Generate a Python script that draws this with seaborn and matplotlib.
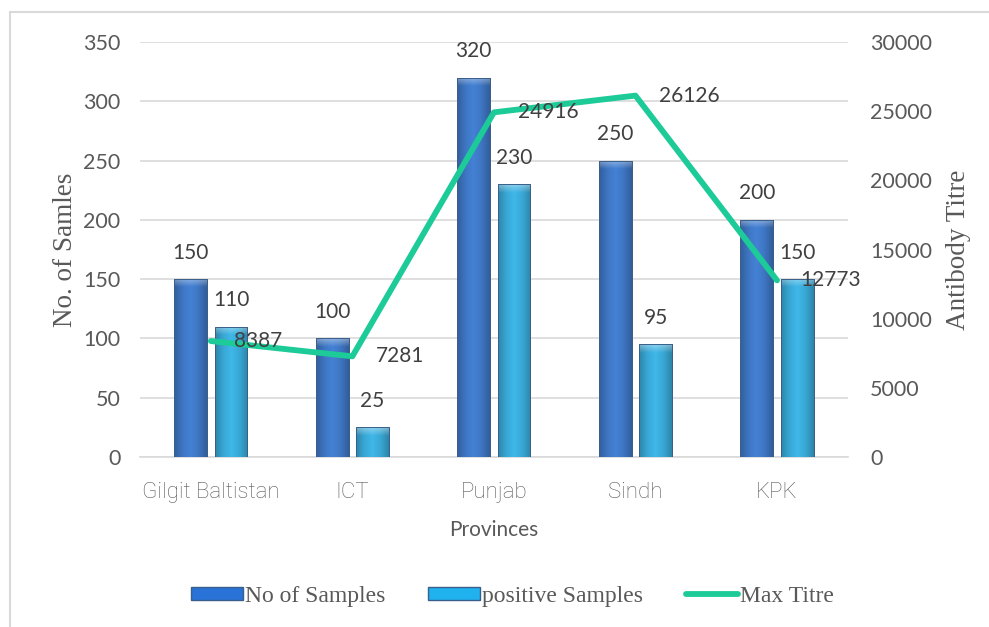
import numpy as np
import pandas as pd
import matplotlib
matplotlib.use("Agg")
import matplotlib.pyplot as plt
from matplotlib.patches import Patch
from matplotlib.lines import Line2D
from matplotlib.colors import LinearSegmentedColormap
import seaborn as sns

# --- data -------------------------------------------------------------
provinces = ["Gilgit Baltistan", "ICT", "Punjab", "Sindh", "KPK"]
no_of_samples = [150, 100, 320, 250, 200]
positive_samples = [110, 25, 230, 95, 150]
max_titre = [8387, 7281, 24916, 26126, 12773]
series_names = ["No of Samples", "positive Samples", "Max Titre"]

left_ticks = [0, 50, 100, 150, 200, 250, 300, 350]
right_ticks = [0, 5000, 10000, 15000, 20000, 25000, 30000]

# --- style ------------------------------------------------------------
sns.set_theme(style="white")
plt.rcParams["font.family"] = ["Lato", "DejaVu Sans"]

C_TOTAL = "#2872d8"
C_POS = "#1fb2ee"
C_LINE = "#1dcb98"
C_TEXT = "#595959"
C_GRID = "#d9d9d9"
C_EDGE = "#3a5f8a"

df = pd.DataFrame({
    "Province": provinces * 2,
    "Count": no_of_samples + positive_samples,
    "Series": [series_names[0]] * len(provinces) + [series_names[1]] * len(provinces),
})

fig = plt.figure(figsize=(9.89, 6.27), dpi=100)
ax = fig.add_axes([0.1416, 0.271, 0.7156, 0.662])

sns.barplot(data=df, x="Province", y="Count", hue="Series", order=provinces,
            hue_order=series_names[:2], palette=[C_TOTAL, C_POS],
            width=0.57, gap=0.19, ax=ax, legend=False, zorder=3,
            edgecolor=C_EDGE, linewidth=0.6)

# glossy shading inside each bar
def shade(base, dark=0.8, light=1.1):
    rgb = np.array(matplotlib.colors.to_rgb(base))
    d = np.clip(rgb * dark, 0, 1)
    l = np.clip(rgb * light, 0, 1)
    return LinearSegmentedColormap.from_list("g", [d, rgb, l, rgb, d])

grad = np.linspace(0, 1, 64).reshape(1, -1)
for patch in list(ax.patches):
    x0, y0 = patch.get_x(), patch.get_y()
    w, h = patch.get_width(), patch.get_height()
    if h <= 0:
        continue
    base = patch.get_facecolor()
    im = ax.imshow(grad, extent=[x0, x0 + w, y0, y0 + h], aspect="auto",
                   cmap=shade(base), zorder=3.5, interpolation="bicubic")
    im.set_clip_path(patch)
    # lighter cap at the top of the bar
    cap_h = min(h, 7)
    top = ax.imshow(np.linspace(0, 1, 32).reshape(-1, 1),
                    extent=[x0, x0 + w, y0 + h - cap_h, y0 + h], aspect="auto",
                    cmap=LinearSegmentedColormap.from_list(
                        "c", [(1, 1, 1, 0.0), (1, 1, 1, 0.4)]),
                    zorder=3.6, origin="lower")
    top.set_clip_path(patch)
    edge = plt.Rectangle((x0, y0), w, h, fill=False, edgecolor=C_EDGE,
                         linewidth=0.7, zorder=3.7)
    ax.add_patch(edge)

ax.set_xlim(-0.5, len(provinces) - 0.5)
ax.set_ylim(0, 350)
ax.set_yticks(left_ticks)
ax.yaxis.grid(True, color=C_GRID, linewidth=1.2, zorder=0)
ax.set_axisbelow(True)
for s in ["left", "right", "top"]:
    ax.spines[s].set_visible(False)
ax.spines["bottom"].set_color(C_GRID)
ax.spines["bottom"].set_linewidth(1.2)
ax.tick_params(axis="y", length=0, pad=14, labelsize=15.5, labelcolor=C_TEXT)
ax.tick_params(axis="x", length=0, pad=18, labelcolor=C_TEXT)
for lbl in ax.get_xticklabels():
    lbl.set_fontfamily(["Roboto", "DejaVu Sans"])
    lbl.set_fontweight("light")
    lbl.set_fontsize(16)
ax.set_xlabel("Provinces", fontsize=15, color=C_TEXT, labelpad=12)
ax.set_ylabel("No. of Samles", fontsize=19.5, color=C_TEXT,
              family=["Liberation Serif", "DejaVu Serif"], labelpad=4)

# value labels above the bars
for container in ax.containers:
    ax.bar_label(container, padding=12, fontsize=15, color="#404040")

# secondary axis with the titre line
ax2 = ax.twinx()
sns.lineplot(x=np.arange(len(provinces)), y=max_titre, ax=ax2, color=C_LINE,
             linewidth=4.2, zorder=5, legend=False)
ax2.set_ylim(0, 30000)
ax2.set_yticks(right_ticks)
for s in ["left", "right", "top", "bottom"]:
    ax2.spines[s].set_visible(False)
ax2.tick_params(axis="y", length=0, pad=16, labelsize=15.5, labelcolor=C_TEXT)
ax2.set_ylabel("Antibody Titre", fontsize=19.5, color=C_TEXT,
               family=["Liberation Serif", "DejaVu Serif"], labelpad=10)
for xi, v in enumerate(max_titre):
    ax2.annotate(f"{v}", (xi, v), xytext=(17, 0), textcoords="offset points",
                 ha="left", va="center", fontsize=15, color="#404040", zorder=6)

# legend below the plot
handles = [
    Patch(facecolor=C_TOTAL, edgecolor=C_EDGE),
    Patch(facecolor=C_POS, edgecolor=C_EDGE),
    Line2D([0], [0], color=C_LINE, linewidth=4.2, solid_capstyle="round"),
]
fig.legend(handles, series_names, loc="center", bbox_to_anchor=(0.518, 0.049),
           ncol=3, frameon=False, handlelength=2.2, handleheight=0.5,
           handletextpad=0.1, columnspacing=1.8,
           prop={"family": ["Liberation Serif", "DejaVu Serif"], "size": 17},
           labelcolor=C_TEXT)

# outer chart frame
fig.add_artist(Line2D([10 / 989, 1], [1 - 12 / 627] * 2, color=C_GRID,
                      linewidth=1.5, transform=fig.transFigure))
fig.add_artist(Line2D([10 / 989] * 2, [0, 1 - 12 / 627], color=C_GRID,
                      linewidth=1.5, transform=fig.transFigure))

fig.savefig("out.png", dpi=100, facecolor="white")
